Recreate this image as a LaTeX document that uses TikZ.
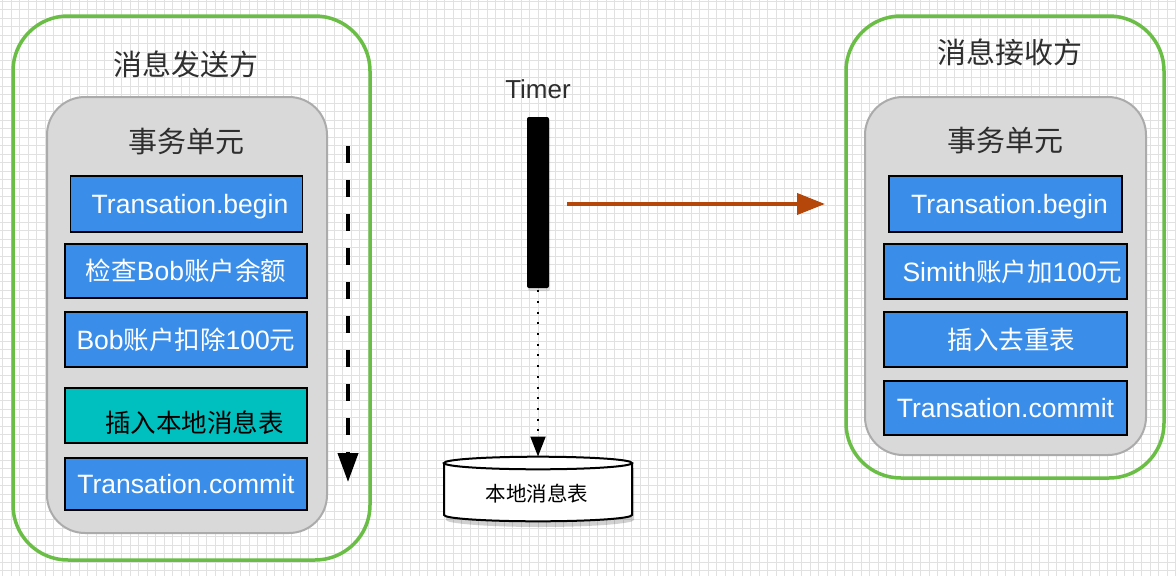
\documentclass[tikz,border=0pt]{standalone}
\usepackage{fontspec}
\setmainfont{Liberation Sans}[Scale=1.04]
\newfontfamily\cjk{Noto Sans CJK SC}
\usetikzlibrary{arrows.meta,shadows}
\newcommand\zh[1]{{\cjk #1}}
\definecolor{gridc}{HTML}{E1E1E1}
\definecolor{greenc}{HTML}{6BBE45}
\definecolor{grayfill}{HTML}{D9D9D9}
\definecolor{grayline}{HTML}{ABABAB}
\definecolor{bluec}{HTML}{3A8EEA}
\definecolor{tealc}{HTML}{00BFBF}
\definecolor{orangec}{HTML}{B5470B}
\definecolor{titlec}{HTML}{2E2E2E}
\begin{document}
\begin{tikzpicture}[x=1pt,y=-1pt,
  outerbox/.style={draw=greenc, line width=3.5pt, rounded corners=55pt, inner sep=0pt},
  unitbox/.style={draw=grayline, fill=grayfill, line width=2pt, rounded corners=38pt, inner sep=0pt},
  titletext/.style={font=\cjk\fontsize{29pt}{30pt}\selectfont, text=titlec, inner sep=0pt, text height=22pt, text depth=0pt},
  stepbox/.style={draw=black, fill=bluec, line width=1.8pt, inner sep=0pt, text=white,
    font=\fontsize{25.5pt}{27pt}\selectfont, text height=19pt, text depth=0pt},
]
\useasboundingbox (0,0) rectangle (1176,576);
\fill[white] (0,0) rectangle (1176,576);
\foreach \i in {0,...,138} \draw[gridc, line width=1pt] ({2.5+8.5*\i},0) -- ({2.5+8.5*\i},576);
\foreach \j in {0,...,67} \draw[gridc, line width=1pt] (0,{1+8.5*\j}) -- (1176,{1+8.5*\j});

% sender
\node[outerbox, minimum width=357pt, minimum height=544pt] (sender) at (191.5,288) {};
\node[titletext] (sendertitle) at (186,64.5) {消息发送方};
\node[unitbox, minimum width=280pt, minimum height=436pt] (sunit) at (187,315) {};
\node[titletext] (sunittitle) at (186,141) {事务单元};
\node[stepbox, minimum width=232pt, minimum height=56pt] (s1) at (186.5,204) {\hspace*{7pt}Transation.begin};
\node[stepbox, minimum width=242pt, minimum height=54pt] (s2) at (186,271) {\zh{检查}Bob\zh{账户余额}};
\node[stepbox, minimum width=242pt, minimum height=55pt] (s3) at (186,339.5) {Bob\zh{账户扣除}100\zh{元}};
\node[stepbox, fill=tealc, text=black, text height=33pt, minimum width=242pt, minimum height=55pt] (s4) at (186,415.5) {\hspace*{17pt}\zh{插入本地消息表}};
\node[stepbox, minimum width=242pt, minimum height=52pt] (s5) at (186,484) {Transation.commit};

\coordinate (dashA) at (348,146);
\coordinate (dashB) at (348,482);
\draw[line width=4pt, dash pattern=on 17pt off 17pt, -{Triangle[width=20pt,length=29pt]}] (dashA) -- (dashB);

% receiver
\node[outerbox, minimum width=318pt, minimum height=462pt] (receiver) at (1005,247) {};
\node[titletext] (recvtitle) at (1010,52.5) {消息接收方};
\node[unitbox, minimum width=281pt, minimum height=358pt] (runit) at (1005.5,276) {};
\node[titletext] (runittitle) at (1005,140) {事务单元};
\node[stepbox, minimum width=233pt, minimum height=56pt] (r1) at (1005.5,204) {\hspace*{8pt}Transation.begin};
\node[stepbox, minimum width=243pt, minimum height=55pt] (r2) at (1005.5,271.5) {\hspace*{14pt}Simith\zh{账户加}100\zh{元}};
\node[stepbox, minimum width=243pt, minimum height=55pt] (r3) at (1005.5,339.5) {\hspace*{12pt}\zh{插入去重表}};
\node[stepbox, minimum width=243pt, minimum height=54pt] (r4) at (1005.5,408) {Transation.commit};

% timer
\node[font=\fontsize{25pt}{27pt}\selectfont, text=titlec, inner sep=0pt, text height=18.6pt, text depth=0pt] (timertext) at (538,89) {Timer};
\node[fill=black, rounded corners=2pt, minimum width=22pt, minimum height=171pt, inner sep=0pt,
  drop shadow={opacity=0.25, shadow xshift=1pt, shadow yshift=-3pt}] (bar) at (538,202.5) {};

% local table (cylinder)
\fill[black, opacity=0.18] (446,468) -- (446,520) .. controls (446,523.5) and (488,527) .. (540,527)
  .. controls (592,527) and (634,523.5) .. (634,520) -- (634,468) -- cycle;
\filldraw[fill=white, draw=black, line width=2pt] (444,463) -- (444,515) .. controls (444,518.5) and (486.1,521.3) .. (538,521.3)
  .. controls (589.9,521.3) and (632,518.5) .. (632,515) -- (632,463);
\filldraw[fill=white, draw=black, line width=2pt] (538,463) ellipse [x radius=94, y radius=6.3];
\node[font=\cjk\fontsize{20.5pt}{22pt}\selectfont, text=black, inner sep=0pt, text height=15.6pt, text depth=0pt,
  minimum width=188pt, minimum height=58pt] (db) at (537,494) {本地消息表};
\coordinate (dbtop) at (538,456.5);

\draw[line width=2pt, dash pattern=on 2pt off 8.7pt, -{Triangle[width=15pt,length=20pt]}] (bar.south) ++(0,2) -- (dbtop);

% send arrow
\coordinate (o1) at (567,204);
\coordinate (o2) at (825,204);
\draw[orangec, line width=4pt, -{Triangle[width=21pt,length=28pt]}] (o1) -- (o2);
\end{tikzpicture}
\end{document}
